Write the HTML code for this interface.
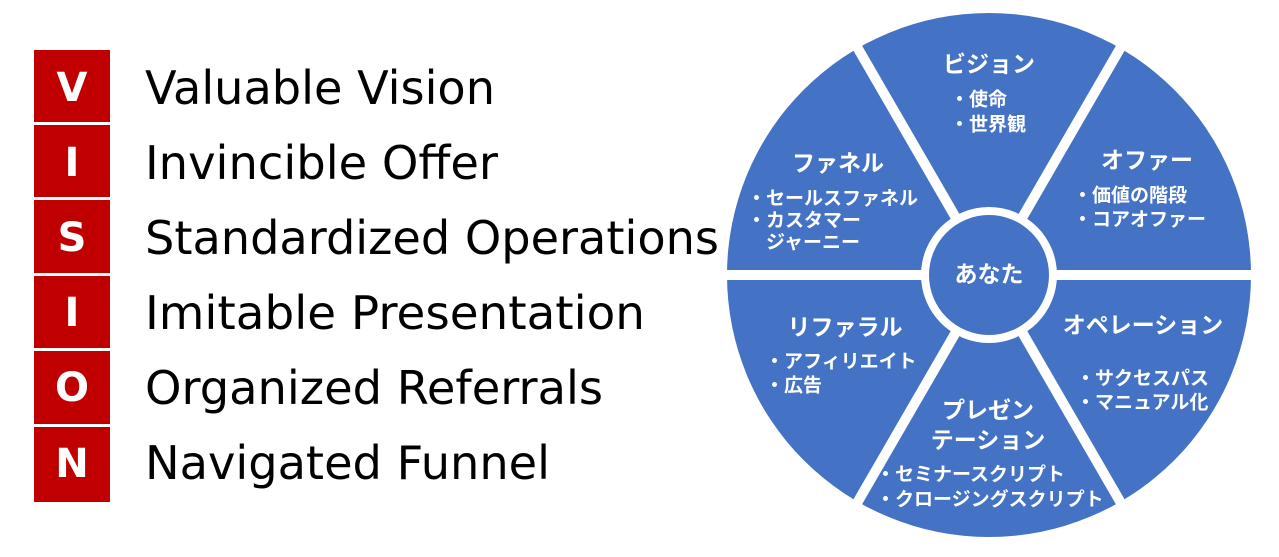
<!DOCTYPE html>
<html><head><meta charset="utf-8"><style>
html,body{margin:0;padding:0;background:#fff;}
svg{display:block;}
.en{font-family:"DejaVu Sans","Liberation Sans",sans-serif;font-size:46px;fill:#000;}
.L{font-family:"DejaVu Sans","Liberation Sans",sans-serif;font-weight:bold;font-size:40px;fill:#fff;}
.h{font-family:"Liberation Sans","Noto Sans CJK JP",sans-serif;font-weight:bold;font-size:23px;fill:#fff;}
.i{font-family:"Liberation Sans","Noto Sans CJK JP",sans-serif;font-weight:bold;font-size:19px;fill:#fff;}
</style></head><body>
<svg width="1279" height="557" viewBox="0 0 1279 557">
<g fill="#C00000">
<rect x="34" y="50" width="76" height="72"/>
<rect x="34" y="125" width="76" height="72"/>
<rect x="34" y="200" width="76" height="73"/>
<rect x="34" y="276" width="76" height="72"/>
<rect x="34" y="351" width="76" height="73"/>
<rect x="34" y="427" width="76" height="75"/>
</g>
<g class="L" text-anchor="middle">
<text x="72" y="101">V</text>
<text x="72" y="176">I</text>
<text x="72" y="251">S</text>
<text x="72" y="326">I</text>
<text x="72" y="401">O</text>
<text x="72" y="477">N</text>
</g>
<g class="en">
<text x="145" y="104" textLength="350" lengthAdjust="spacingAndGlyphs">Valuable Vision</text>
<text x="145" y="179" textLength="353" lengthAdjust="spacingAndGlyphs">Invincible Offer</text>
<text x="145" y="254" textLength="574" lengthAdjust="spacingAndGlyphs">Standardized Operations</text>
<text x="145" y="329" textLength="500" lengthAdjust="spacingAndGlyphs">Imitable Presentation</text>
<text x="145" y="404" textLength="458" lengthAdjust="spacingAndGlyphs">Organized Referrals</text>
<text x="145" y="479" textLength="405" lengthAdjust="spacingAndGlyphs">Navigated Funnel</text>
</g>
<circle cx="989" cy="275" r="262" fill="#4472C4"/>
<g stroke="#fff" stroke-width="10">
<line x1="989" y1="275" x2="1260" y2="275"/>
<line x1="989" y1="275" x2="718" y2="275"/>
<line x1="989" y1="275" x2="1125" y2="40"/>
<line x1="989" y1="275" x2="853" y2="40"/>
<line x1="989" y1="275" x2="1125" y2="510"/>
<line x1="989" y1="275" x2="853" y2="510"/>
</g>
<circle cx="989" cy="275" r="68" fill="#fff"/>
<circle cx="989" cy="275" r="60" fill="#4472C4"/>
<g class="h" text-anchor="middle" dominant-baseline="central">
<text x="989" y="64">ビジョン</text>
<text x="838" y="163">ファネル</text>
<text x="1147" y="160">オファー</text>
<text x="989" y="274">あなた</text>
<text x="845" y="327">リファラル</text>
<text x="1143" y="325">オペレーション</text>
<text x="988" y="410">プレゼン</text>
<text x="988" y="440">テーション</text>
</g>
<g class="i" dominant-baseline="central">
<text x="950" y="100">・使命</text>
<text x="950" y="125">・世界観</text>
<text x="747" y="199">・セールスファネル</text>
<text x="747" y="221">・カスタマー</text>
<text x="766" y="243">ジャーニー</text>
<text x="1073" y="196">・価値の階段</text>
<text x="1073" y="220">・コアオファー</text>
<text x="765" y="362">・アフィリエイト</text>
<text x="765" y="386">・広告</text>
<text x="1076" y="379">・サクセスパス</text>
<text x="1076" y="403">・マニュアル化</text>
<text x="876" y="475">・セミナースクリプト</text>
<text x="876" y="500">・クロージングスクリプト</text>
</g>
</svg>
</body></html>
